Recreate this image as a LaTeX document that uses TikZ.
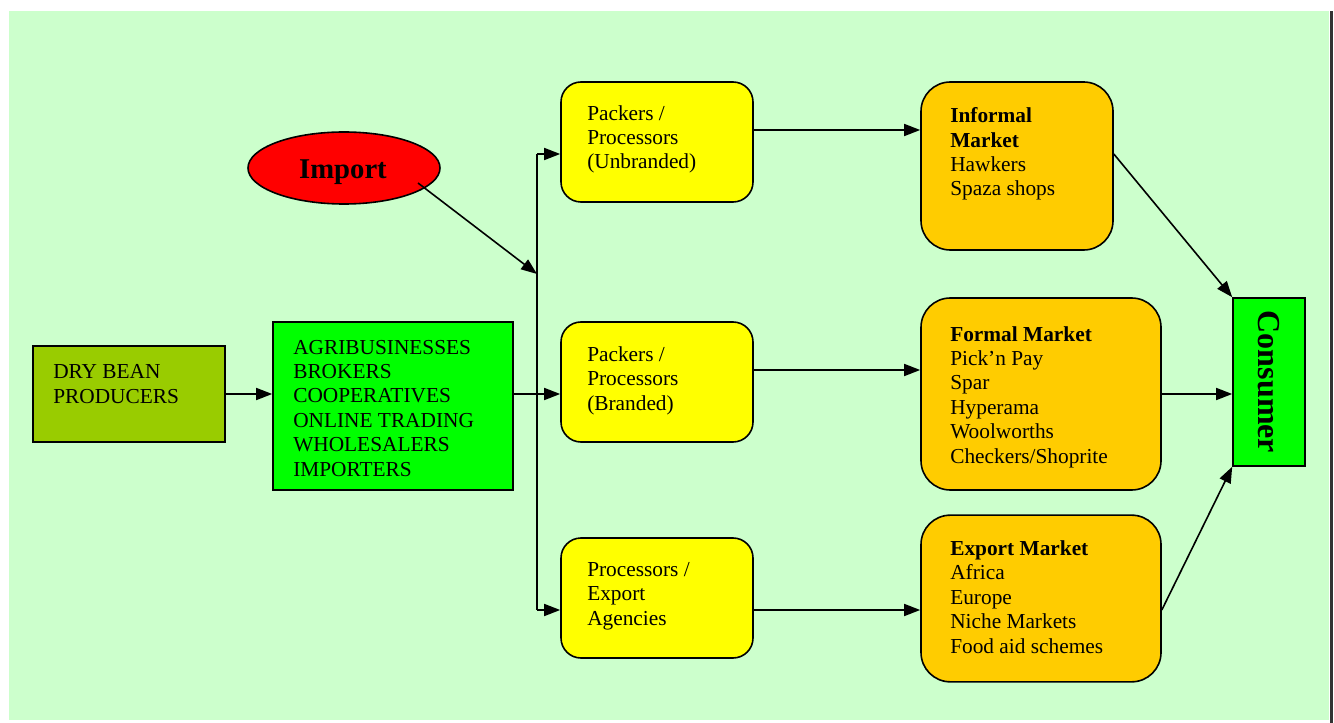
\documentclass[tikz,border=0pt]{standalone}
\usepackage{fontspec}
\setmainfont{Liberation Serif}
\usetikzlibrary{arrows.meta,shapes.geometric}
\definecolor{bgreen}{HTML}{CCFFCC}
\definecolor{olive}{HTML}{99CC00}
\definecolor{lime}{HTML}{00FF00}
\definecolor{amber}{HTML}{FFCC00}
\definecolor{lemon}{HTML}{FFFF00}
\tikzset{
	box/.style={draw=black, line width=1.2pt, inner sep=0pt},
	packer/.style={box, fill=lemon, rounded corners=15pt},
	market/.style={box, fill=amber, rounded corners=22pt},
	txt/.style={inner sep=0pt, align=left, font=\fontsize{16}{18.3}\selectfont},
	flow/.style={line width=1.2pt, -{Triangle[length=12pt,width=9pt]}}
}

\begin{document}
\begin{tikzpicture}[x=0.75pt, y=-0.75pt]
		%%%%% START %%%%%
		\useasboundingbox (0, 0) rectangle (1334, 723);
		\fill[bgreen] (9, 11) rectangle (1329, 720);
		\fill[black!80] (1330, 11) rectangle (1333, 723);
		
		% boxes
		\node[box, fill=olive, minimum width=144pt, minimum height=72pt] (prod) at (129, 394) {};
		\node[box, fill=lime, minimum width=180pt, minimum height=126pt] (agri) at (393, 406) {};
		\node[ellipse, draw=black, line width=1.2pt, fill=red, minimum width=144pt, minimum height=54pt, inner sep=0pt] (import) at (344, 168) {};
		\node[font=\fontsize{21.5}{24}\selectfont\bfseries] (importT) at (343, 172) {Import};
		
		\node[packer, minimum width=144pt, minimum height=90pt] (unbr) at (657, 142) {};
		\node[packer, minimum width=144pt, minimum height=90pt] (brand) at (657, 382) {};
		\node[packer, minimum width=144pt, minimum height=90pt] (proc) at (657, 598) {};
		
		\node[market, minimum width=144pt, minimum height=126pt] (inform) at (1017, 166) {};
		\node[market, minimum width=180pt, minimum height=144pt] (formal) at (1041, 394) {};
		\node[market, minimum width=180pt, minimum height=125pt] (export) at (1041, 598.5) {};
		
		\node[box, fill=lime, minimum width=54pt, minimum height=126pt] (cons) at (1269, 382) {};
		\node[rotate=-90, font=\fontsize{24}{26}\selectfont\bfseries] (consT) at (cons.center) {Consumer};
		
		% texts (anchored at the baseline of the last line)
		\node[txt, anchor=base west] (prodT) at (53, 403) {DRY BEAN\\PRODUCERS};
		\node[txt, anchor=base west] (agriT) at (293, 476) {AGRIBUSINESSES\\BROKERS\\COOPERATIVES\\ONLINE TRADING\\WHOLESALERS\\IMPORTERS};
		\node[txt, anchor=base west] (unbrT) at (587, 169) {Packers /\\Processors\\(Unbranded)};
		\node[txt, anchor=base west] (brandT) at (587, 410) {Packers /\\Processors\\(Branded)};
		\node[txt, anchor=base west] (procT) at (587, 625) {Processors /\\Export\\Agencies};
		\node[txt, anchor=base west] (informT) at (950, 196) {\textbf{Informal}\\\textbf{Market}\\Hawkers\\Spaza shops};
		\node[txt, anchor=base west] (formalT) at (950, 463) {\textbf{Formal Market}\\Pick’n Pay\\Spar\\Hyperama\\Woolworths\\Checkers/Shoprite};
		\node[txt, anchor=base west] (exportT) at (950, 653) {\textbf{Export Market}\\Africa\\Europe\\Niche Markets\\Food aid schemes};
		
		% connectors
		\coordinate (split) at (537, 394);
		\coordinate (join) at (537, 274);
		\draw[flow] (prod) -- (prod.east -| agri.west);
		\draw[flow] (agri.east |- split) -- (brand.west |- split);
		\draw[line width=1.2pt] (537, 154) -- (537, 610);
		\draw[flow] (537, 154) -- (unbr.west |- 0, 154);
		\draw[flow] (537, 610) -- (proc.west |- 0, 610);
		\draw[flow] (418, 183) -- (join);
		
		\draw[flow] (unbr.east |- 0, 130) -- (inform.west |- 0, 130);
		\draw[flow] (brand.east |- 0, 370) -- (formal.west |- 0, 370);
		\draw[flow] (proc.east |- 0, 610) -- (export.west |- 0, 610);
		
		\draw[flow] (inform.east |- 0, 154) -- (cons.north west);
		\draw[flow] (formal.east |- 0, 394) -- (cons.west |- 0, 394);
		\draw[flow] (export.east |- 0, 610) -- (cons.south west);
		%%%%% END %%%%%
\end{tikzpicture}
\end{document}
